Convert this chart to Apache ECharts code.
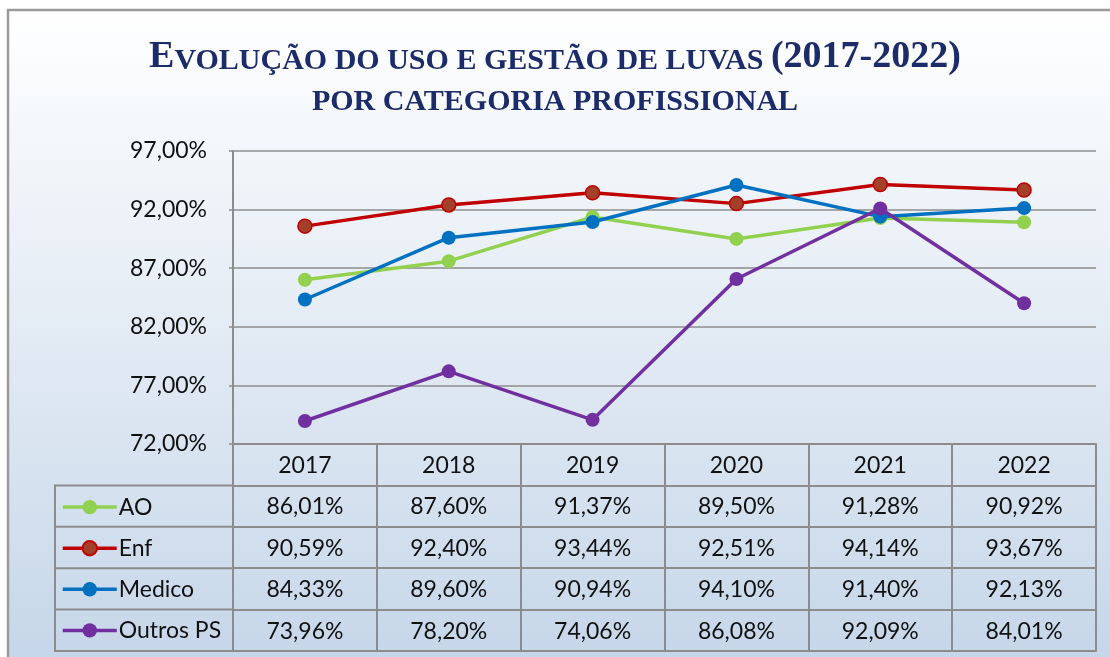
<!DOCTYPE html>
<html>
<head>
<meta charset="utf-8">
<script src="https://cdn.jsdelivr.net/npm/echarts@6/dist/echarts.min.js"></script>
<style>
  html, body { margin: 0; padding: 0; background: #fff; }
  #chart-container { width: 1110px; height: 657px; }
</style>
</head>
<body>
<div id="chart-container"></div>
<script>
// data
var years = ["2017", "2018", "2019", "2020", "2021", "2022"];
var names = ["AO", "Enf", "Medico", "Outros PS"];
var ao = [86.01, 87.60, 91.37, 89.50, 91.28, 90.92];
var enf = [90.59, 92.40, 93.44, 92.51, 94.14, 93.67];
var medico = [84.33, 89.60, 90.94, 94.10, 91.40, 92.13];
var outros = [73.96, 78.20, 74.06, 86.08, 92.09, 84.01];
var yTicks = [72, 77, 82, 87, 92, 97];

var rows = [ao, enf, medico, outros];
var colors = ["#92d050", "#c00000", "#0070c0", "#7030a0"];
var fill = ["#92d050", "#a3402a", "#0070c0", "#7030a0"];

var font = "Lato";
var gray = "#8c8c8c";
var rowH = 41.4;

function pct(v) {
  return v.toFixed(2).replace(".", ",") + "%";
}

var dom = document.getElementById("chart-container");
var myChart = echarts.init(dom);

// axes that form the data table under the plot
var xAxes = [];
for (var r = 0; r <= rows.length + 1; r++) {
  (function (k) {
    var last = k === rows.length + 1;
    xAxes.push({
      type: "category",
      data: years,
      position: "bottom",
      offset: k * rowH,
      boundaryGap: true,
      axisLine: { show: true, lineStyle: { color: gray, width: 2 } },
      axisTick: { show: !last, interval: 0, length: rowH, lineStyle: { color: gray, width: 2 } },
      axisLabel: {
        show: !last,
        interval: 0,
        margin: 10,
        color: "#111",
        fontFamily: font,
        fontSize: 23,
        formatter: function (v, i) {
          return k === 0 ? v : pct(rows[k - 1][i]);
        }
      },
      splitLine: { show: false }
    });
  })(r);
}

var series = names.map(function (n, i) {
  return {
    name: n,
    type: "line",
    xAxisIndex: 0,
    data: rows[i],
    symbol: "circle",
    symbolSize: 14,
    lineStyle: { color: colors[i], width: 3.5 },
    itemStyle: {
      color: fill[i],
      borderColor: colors[i],
      borderWidth: i === 1 ? 1.5 : 0
    },
    z: 3 + i
  };
});

// background and legend column lines
var graphics = [
  {
    type: "rect",
    z: -10,
    silent: true,
    shape: { x: 8, y: 10, width: 1120, height: 670 },
    style: {
      fill: new echarts.graphic.LinearGradient(0, 0, 0, 1, [
        { offset: 0, color: "#ffffff" },
        { offset: 1, color: "#c4d5e8" }
      ]),
      stroke: "#9a9a9a",
      lineWidth: 2.5
    }
  },
  {
    type: "polyline",
    z: 10,
    silent: true,
    shape: { points: [[233, 444 + rowH], [55, 444 + rowH], [55, 444 + 5 * rowH], [233, 444 + 5 * rowH]] },
    style: { stroke: gray, lineWidth: 2, fill: null }
  }
];
for (var j = 2; j <= 4; j++) {
  graphics.push({
    type: "line",
    z: 10,
    silent: true,
    shape: { x1: 55, y1: 444 + j * rowH, x2: 233, y2: 444 + j * rowH },
    style: { stroke: gray, lineWidth: 2 }
  });
}

var option = {
  title: [
    {
      left: "center",
      top: 33,
      text: "{b|E}{s|VOLUÇÃO DO USO E GESTÃO DE LUVAS }{b|(2017-2022)}",
      textStyle: {
        rich: {
          b: { fontFamily: "Liberation Serif", fontWeight: "bold", fontSize: 38, color: "#1c2b69", verticalAlign: "bottom" },
          s: { fontFamily: "Liberation Serif", fontWeight: "bold", fontSize: 30, color: "#1c2b69", verticalAlign: "bottom" }
        }
      }
    },
    {
      left: "center",
      top: 82,
      text: "POR CATEGORIA PROFISSIONAL",
      textStyle: { fontFamily: "Liberation Serif", fontWeight: "bold", fontSize: 30, color: "#1c2b69" }
    }
  ],
  legend: {
    data: names,
    orient: "vertical",
    left: 61,
    top: 444 + rowH * 1.5 - 10.5,
    height: 220,
    padding: 0,
    itemWidth: 54,
    itemHeight: 18,
    itemGap: rowH - 23.3,
    lineStyle: { width: 3.5 },
    textStyle: { fontFamily: font, fontSize: 23, color: "#111", padding: [0, 0, 0, -3] }
  },
  grid: { left: 233, right: 14, top: 151, bottom: 213, containLabel: false },
  xAxis: xAxes,
  yAxis: {
    type: "value",
    min: yTicks[0],
    max: yTicks[yTicks.length - 1],
    interval: 5,
    axisLine: { show: true, lineStyle: { color: gray, width: 2 } },
    axisTick: { show: true, length: 4, lineStyle: { color: gray, width: 1.5 } },
    axisLabel: {
      margin: 26,
      color: "#111",
      fontFamily: font,
      fontSize: 23,
      formatter: function (v) { return pct(v); }
    },
    splitLine: { show: true, lineStyle: { color: gray, width: 1.5 } }
  },
  graphic: graphics,
  series: series
};

if (option && typeof option === "object") {
  myChart.setOption(option, true);
}
</script>
</body>
</html>
